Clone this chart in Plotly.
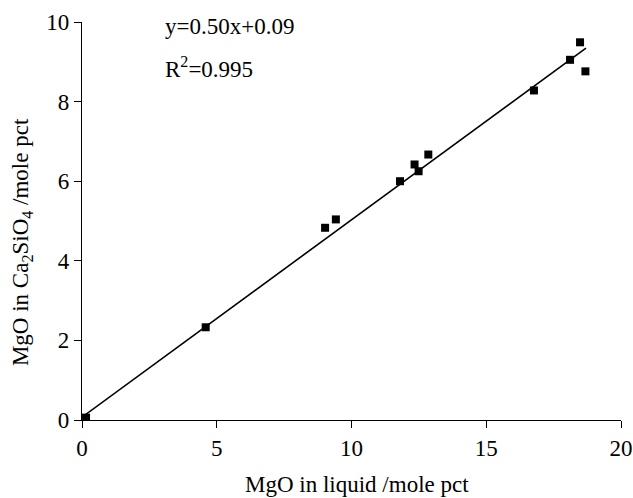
import plotly.graph_objects as go

# Data
mgo_liquid = [0.15, 4.59, 9.02, 9.42, 11.80, 12.34, 12.49, 12.85, 16.77, 18.11, 18.48, 18.68]
mgo_c2s = [0.06, 2.33, 4.83, 5.04, 6.00, 6.42, 6.25, 6.67, 8.28, 9.05, 9.49, 8.76]

fit_slope = 0.496
fit_intercept = 0.07
fit_x = [0.0, 18.7]
fit_y = [fit_slope * v + fit_intercept for v in fit_x]

x_ticks = [0, 5, 10, 15, 20]
y_ticks = [0, 2, 4, 6, 8, 10]

FONT = "Liberation Serif"

fig = go.Figure()
fig.add_trace(go.Scatter(x=fit_x, y=fit_y, mode="lines",
                         line=dict(color="black", width=1.6), showlegend=False))
fig.add_trace(go.Scatter(x=mgo_liquid, y=mgo_c2s, mode="markers",
                         marker=dict(symbol="square", size=8, color="black"),
                         showlegend=False))

fig.update_layout(
    width=633, height=498,
    margin=dict(l=82, r=12, t=21.5, b=78),
    paper_bgcolor="white", plot_bgcolor="white",
    font=dict(family=FONT, size=23, color="black"),
    xaxis=dict(range=[0, 20], tickvals=x_ticks, showgrid=False, zeroline=False,
               showline=True, linecolor="black", linewidth=1.3, automargin=False,
               ticks="outside", ticklen=7, tickwidth=1.3, tickcolor="black"),
    yaxis=dict(range=[0, 10], tickvals=y_ticks, showgrid=False, zeroline=False,
               showline=True, linecolor="black", linewidth=1.3, automargin=False,
               ticks="outside", ticklen=7, tickwidth=1.3, tickcolor="black"),
    annotations=[
        dict(text="MgO in liquid /mole pct", xref="paper", yref="paper",
             x=0.51, y=0, yshift=-64, showarrow=False, xanchor="center", yanchor="middle"),
        dict(text="MgO in Ca<sub>2</sub>SiO<sub>4</sub> /mole pct", xref="paper", yref="paper",
             x=0, y=0.447, xshift=-60, textangle=-90, showarrow=False,
             xanchor="center", yanchor="middle"),
        dict(text="y=0.50x+0.09", xref="x", yref="y", x=3.0, y=9.88,
             showarrow=False, xanchor="left", yanchor="middle"),
        dict(text="R<sup>2</sup>=0.995", xref="x", yref="y", x=3.0, y=8.86,
             showarrow=False, xanchor="left", yanchor="middle"),
    ],
)

fig.write_html("out.html")
